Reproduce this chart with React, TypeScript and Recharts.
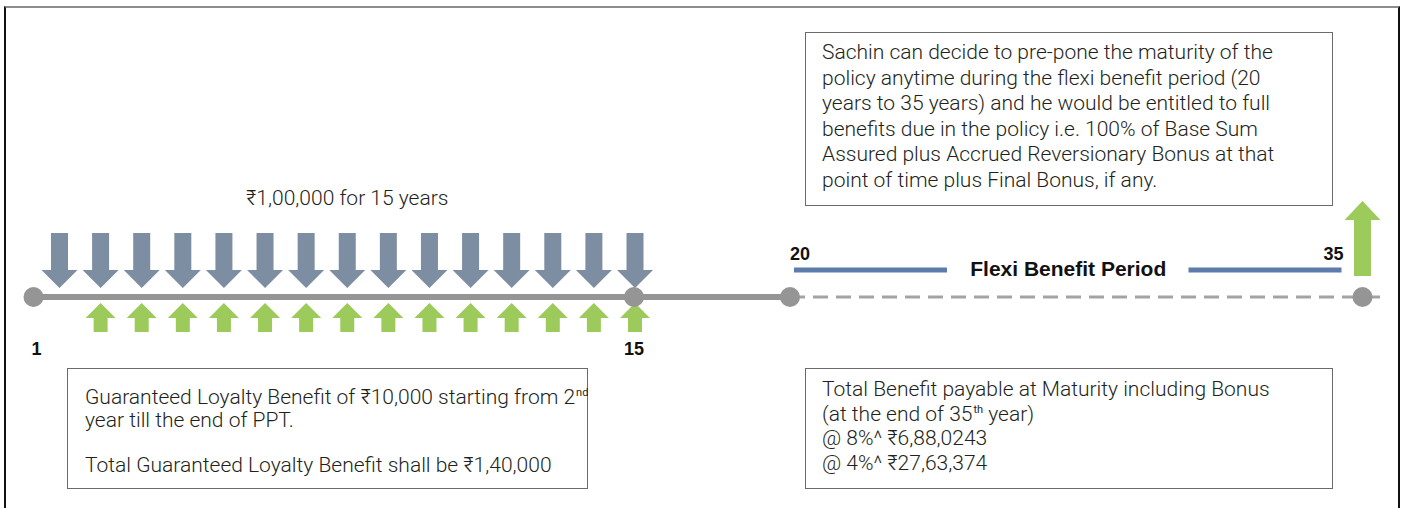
import React from "react"
import { ComposedChart, XAxis, YAxis, Scatter, ReferenceLine, ReferenceDot } from "recharts"

// ---- data ----
const premiumYears = [1, 2, 3, 4, 5, 6, 7, 8, 9, 10, 11, 12, 13, 14, 15]
const loyaltyYears = [2, 3, 4, 5, 6, 7, 8, 9, 10, 11, 12, 13, 14, 15]
const earlyMilestones = [1, 15]
const lateMilestones = [20, 35]
const maturityYears = [35]
const flexiPeriod = [20, 35]
const premiumText = "₹1,00,000 for 15 years"
const flexiText = "Flexi Benefit Period"

const flexiNote = [
  "Sachin can decide to pre-pone the maturity of the",
  "policy anytime during the flexi benefit period (20",
  "years to 35 years) and he would be entitled to full",
  "benefits due in the policy i.e. 100% of Base Sum",
  "Assured plus Accrued Reversionary Bonus at that",
  "point of time plus Final Bonus, if any.",
]

// ---- layout ----
const W = 1402
const H = 508
const BASE = 297 // timeline height in px

// linear domain so that value v0 lands on pixel p0 and v1 on p1
const domainFor = (v0: number, p0: number, v1: number, p1: number) => {
  const k = (p1 - p0) / (v1 - v0)
  const d0 = v0 - p0 / k
  return [d0, d0 + W / k]
}
const payDomain = domainFor(1, 59.5, 15, 635)
const earlyDomain = domainFor(1, 33.5, 15, 634)
const lateDomain = domainFor(20, 790, 35, 1362.5)

const GREY = "#959595"
const SLATE = "#7e8ea2"
const GREEN = "#9ccb5b"
const BLUE = "#5d7cab"
const INK = "#231f20"
const BODY_FONT = "Roboto, 'Liberation Sans', 'DejaVu Sans', sans-serif"
const BOLD_FONT = "'Liberation Sans Narrow', 'Liberation Sans', Arial, sans-serif"

const toPts = (cx: number, cy: number, pts: number[][]) =>
  pts.map(([x, y]) => `${cx + x},${cy + y}`).join(" ")

const DownArrow = (p: any) => (
  <polygon
    fill={SLATE}
    points={toPts(p.cx, p.cy, [
      [-8.5, -64], [8.5, -64], [8.5, -27], [18, -27], [0, -9], [-18, -27], [-8.5, -27],
    ])}
  />
)

const LoyaltyArrow = (p: any) => (
  <polygon
    fill={GREEN}
    points={toPts(p.cx, p.cy, [
      [0, 6], [15, 21], [7, 21], [7, 35], [-7, 35], [-7, 21], [-15, 21],
    ])}
  />
)

const MaturityArrow = (p: any) => (
  <polygon
    fill={GREEN}
    points={toPts(p.cx, p.cy, [
      [0, -96], [18, -77], [8.5, -77], [8.5, -21], [-8.5, -21], [-8.5, -77], [-18, -77],
    ])}
  />
)

const labelStyle: Record<number, { dx: number; dy: number; anchor: "start" | "middle" | "end" }> = {
  1: { dx: 3, dy: 58, anchor: "middle" },
  15: { dx: 0, dy: 58, anchor: "middle" },
  20: { dx: 0, dy: -37, anchor: "start" },
  35: { dx: -19, dy: -37, anchor: "end" },
}

const Milestone = (p: any) => {
  const yr = p.payload.year
  const s = labelStyle[yr]
  return (
    <g>
      <circle cx={p.cx} cy={p.cy} r={10} fill={GREY} />
      <text
        x={p.cx + s.dx}
        y={p.cy + s.dy}
        textAnchor={s.anchor}
        fontFamily="'Liberation Sans', Arial, sans-serif"
        fontWeight={700}
        fontSize={18}
        fill="#111"
      >
        {yr}
      </text>
    </g>
  )
}

const FlexiShape = (p: any) => {
  const { x1, x2, y1 } = p
  const mid = (x1 + x2) / 2 - 8
  return (
    <g>
      <line x1={x1 + 4} x2={x1 + 157} y1={y1} y2={y1} stroke={BLUE} strokeWidth={5} />
      <line x1={x2 - 174} x2={x2 - 21} y1={y1} y2={y1} stroke={BLUE} strokeWidth={5} />
      <text
        x={mid}
        y={y1 + 6}
        textAnchor="middle"
        fontFamily={BOLD_FONT}
        fontWeight={700}
        fontSize={21}
        fill="#111"
      >
        {flexiText}
      </text>
    </g>
  )
}

const rows = (arr: number[]) => arr.map((year) => ({ year, level: 0 }))

const Sup = ({ children }: { children: React.ReactNode }) => (
  <span style={{ fontSize: 11, fontWeight: 400, color: INK, position: "relative", top: -8, lineHeight: 0, marginLeft: 1 }}>
    {children}
  </span>
)

const Row = ({ h, children, mt = 0 }: { h: number; children: React.ReactNode; mt?: number }) => (
  <div style={{ height: h, lineHeight: `${h}px`, marginTop: mt }}>{children}</div>
)

const boxStyle: React.CSSProperties = {
  position: "absolute",
  boxSizing: "border-box",
  border: "1.5px solid #6a6a6a",
  fontFamily: BODY_FONT,
  fontWeight: 300,
  fontSize: 21,
  color: INK,
  whiteSpace: "nowrap",
}

export default function App() {
  return (
    <div style={{ position: "absolute", left: 0, top: 0, width: W, height: H, background: "#fff", overflow: "hidden" }}>
      {/* frame */}
      <div
        style={{
          position: "absolute",
          left: 4,
          top: 6,
          width: 1396,
          height: 520,
          boxSizing: "border-box",
          borderTop: "2px solid #8c8c8c",
          borderLeft: "2px solid #111",
          borderRight: "2px solid #111",
        }}
      />
      <div style={{ position: "absolute", left: 0, top: 0 }}>
        <ComposedChart width={W} height={H} margin={{ top: 0, right: 0, bottom: 0, left: 0 }}>
          <XAxis xAxisId="pay" type="number" dataKey="year" domain={payDomain} hide allowDataOverflow />
          <XAxis xAxisId="early" type="number" dataKey="year" domain={earlyDomain} hide allowDataOverflow />
          <XAxis xAxisId="late" type="number" dataKey="year" domain={lateDomain} hide allowDataOverflow />
          <YAxis type="number" dataKey="level" domain={[BASE - H, BASE]} hide allowDataOverflow />

          <ReferenceLine
            xAxisId="early"
            segment={[{ x: 1, y: 0 }, { x: 15, y: 0 }]}
            stroke={GREY}
            strokeWidth={6}
          />
          <ReferenceLine
            xAxisId="late"
            segment={[{ x: 15, y: 0 }, { x: 20, y: 0 }]}
            stroke={GREY}
            strokeWidth={6}
          />
          <ReferenceLine
            xAxisId="late"
            segment={[{ x: flexiPeriod[0], y: 0 }, { x: flexiPeriod[1] + 0.5, y: 0 }]}
            stroke="#a3a3a3"
            strokeWidth={3}
            strokeDasharray="15 8"
          />
          <ReferenceLine
            xAxisId="late"
            segment={[{ x: flexiPeriod[0], y: 27 }, { x: flexiPeriod[1], y: 27 }]}
            shape={FlexiShape}
          />
          <ReferenceDot
            xAxisId="pay"
            x={8}
            y={99}
            r={0}
            stroke="none"
            fill="none"
            label={{ value: premiumText, position: "center", fontSize: 21, fill: INK, fontFamily: BODY_FONT, fontWeight: 300 }}
          />

          <Scatter xAxisId="pay" data={rows(premiumYears)} shape={DownArrow} isAnimationActive={false} />
          <Scatter xAxisId="pay" data={rows(loyaltyYears)} shape={LoyaltyArrow} isAnimationActive={false} />
          <Scatter xAxisId="late" data={rows(maturityYears)} shape={MaturityArrow} isAnimationActive={false} />
          <Scatter xAxisId="early" data={rows(earlyMilestones)} shape={Milestone} isAnimationActive={false} />
          <Scatter xAxisId="late" data={rows(lateMilestones)} shape={Milestone} isAnimationActive={false} />
        </ComposedChart>
      </div>

      {/* note boxes */}
      <div style={{ ...boxStyle, left: 805, top: 32, width: 528, height: 174, padding: "7px 0 0 16px" }}>
        {flexiNote.map((l) => (
          <Row key={l} h={25.6}>
            {l}
          </Row>
        ))}
      </div>
      <div style={{ ...boxStyle, left: 67, top: 368, width: 521, height: 121, padding: "17px 0 0 17px" }}>
        <Row h={23}>
          Guaranteed Loyalty Benefit of ₹10,000 starting from 2<Sup>nd</Sup>
        </Row>
        <Row h={23}>year till the end of PPT.</Row>
        <Row h={23} mt={22}>
          Total Guaranteed Loyalty Benefit shall be ₹1,40,000
        </Row>
      </div>
      <div style={{ ...boxStyle, left: 805, top: 368, width: 528, height: 121, padding: "8px 0 0 16px" }}>
        <Row h={24.7}>Total Benefit payable at Maturity including Bonus</Row>
        <Row h={24.7}>
          (at the end of 35<Sup>th</Sup> year)
        </Row>
        <Row h={24.7}>@ 8%^ ₹6,88,0243</Row>
        <Row h={24.7}>@ 4%^ ₹27,63,374</Row>
      </div>
    </div>
  )
}
